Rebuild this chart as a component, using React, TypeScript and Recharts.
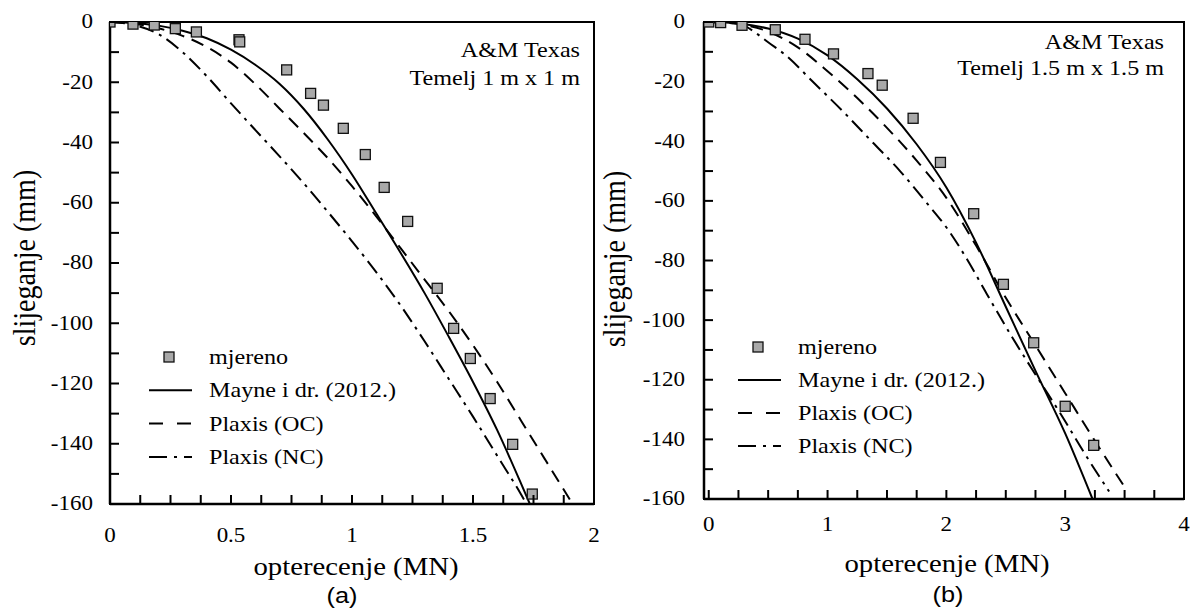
import React from 'react';
import { ComposedChart, Line, Scatter, XAxis, YAxis, ReferenceArea, Legend } from 'recharts';

// ---------- data ----------
const measAx = [0, 0.095, 0.183, 0.27, 0.357, 0.533, 0.536, 0.73, 0.829, 0.882, 0.964, 1.055, 1.133, 1.23, 1.352, 1.42, 1.489, 1.571, 1.664, 1.745];
const measAy = [0, -0.7, -1.0, -2.2, -3.3, -5.9, -6.6, -15.9, -23.7, -27.6, -35.3, -44, -54.9, -66.2, -88.4, -101.7, -111.7, -125, -140.2, -156.7];

const mayneAx = [0, 0.1, 0.2, 0.3, 0.4, 0.5, 0.6, 0.7, 0.8, 0.9, 1.0, 1.1, 1.2, 1.3, 1.4, 1.5, 1.6, 1.7, 1.735];
const mayneAy = [0, -0.3, -1.2, -2.9, -5.4, -9.2, -14.2, -20.5, -28.8, -39, -50.6, -63.5, -76.5, -90, -104.5, -119.5, -135.5, -153.5, -160];

const ocAx = [0, 0.1, 0.2, 0.3, 0.4, 0.5, 0.6, 0.7, 0.8, 0.9, 1.0, 1.1, 1.2, 1.3, 1.4, 1.5, 1.6, 1.7, 1.8, 1.9];
const ocAy = [0, -0.6, -2.1, -4.6, -8.3, -13.5, -20.6, -28.7, -36.8, -45.2, -54.5, -64.5, -75, -85.5, -96, -107.3, -119.5, -132.5, -145.5, -158.5];

const ncAx = [0, 0.1, 0.2, 0.3, 0.4, 0.5, 0.6, 0.7, 0.8, 0.9, 1.0, 1.1, 1.2, 1.3, 1.4, 1.5, 1.6, 1.7, 1.72];
const ncAy = [0, -1, -4, -10, -18, -27, -35.8, -44.5, -53.5, -63, -72.8, -83, -94, -106, -118.5, -131, -144, -157, -159.8];

const measBx = [0, 0.1, 0.28, 0.56, 0.81, 1.05, 1.34, 1.46, 1.72, 1.95, 2.23, 2.48, 2.735, 3.0, 3.24];
const measBy = [0, -0.2, -1.1, -2.6, -5.8, -10.7, -17.3, -21.2, -32.3, -47.1, -64.3, -88, -107.6, -128.9, -142];

const mayneBx = [0, 0.25, 0.5, 0.75, 1.0, 1.25, 1.5, 1.75, 2.0, 2.25, 2.5, 2.75, 3.0, 3.23];
const mayneBy = [0, -0.5, -2.2, -5.6, -11.2, -19.2, -29, -41, -55.5, -74, -95.5, -117, -138, -160];

const ocBx = [0, 0.25, 0.5, 0.75, 1.0, 1.25, 1.5, 1.75, 2.0, 2.25, 2.5, 2.75, 3.0, 3.25, 3.52];
const ocBy = [0, -0.7, -3.2, -8.5, -16.5, -25.5, -35.5, -46.5, -59, -75, -92.5, -108.5, -124.5, -140.5, -157.2];

const ncBx = [0, 0.15, 0.3, 0.4, 0.5, 0.65, 0.87, 1.13, 1.37, 1.61, 1.82, 2.02, 2.18, 2.33, 2.55, 2.77, 2.97, 3.16, 3.37];
const ncBy = [0, -0.2, -1.3, -3.8, -6.8, -11.2, -19.8, -30, -40, -50, -60, -70, -80, -90.5, -105.5, -119.5, -132, -144.5, -157.5];

const yTicks = [0, -10, -20, -30, -40, -50, -60, -70, -80, -90, -100, -110, -120, -130, -140, -150, -160];
const yLabels = [0, -20, -40, -60, -80, -100, -120, -140, -160];
const xTicksA = [0, 0.125, 0.25, 0.375, 0.5, 0.625, 0.75, 0.875, 1, 1.125, 1.25, 1.375, 1.5, 1.625, 1.75, 1.875, 2];
const xLabelsA = [0, 0.5, 1, 1.5, 2];
const xTicksB = [0, 0.25, 0.5, 0.75, 1, 1.25, 1.5, 1.75, 2, 2.25, 2.5, 2.75, 3, 3.25, 3.5, 3.75, 4];
const xLabelsB = [0, 1, 2, 3, 4];

const legendNames = ['mjereno', 'Mayne i dr. (2012.)', 'Plaxis (OC)', 'Plaxis (NC)'];
const siteName = 'A&M Texas';
const footingA = 'Temelj 1 m x 1 m';
const footingB = 'Temelj 1.5 m x 1.5 m';
const xTitle = 'opterecenje (MN)';
const yTitle = 'slijeganje (mm)';
const panelTags = ['(a)', '(b)'];

// ---------- helpers ----------
const FONT = "'Liberation Serif', 'Times New Roman', Times, serif";
const SANS = "'Liberation Sans', Arial, sans-serif";
const SX = 1.15;
const zip = (xs: number[], ys: number[]) => xs.map((x, i) => ({ x, y: ys[i] }));

function SText({ x, y, size, anchor = 'middle', family = FONT, rotate = false, children }: any) {
  const t = `translate(${x},${y}) scale(${SX},1)` + (rotate ? ' rotate(-90)' : '');
  return (
    <text transform={t} x={0} y={0} textAnchor={anchor} dominantBaseline="central" fontSize={size} fontFamily={family} fill="#000">
      {children}
    </text>
  );
}

const isIn = (arr: number[], v: number) => arr.some((a) => Math.abs(a - v) < 1e-9);

const XTick = (props: any) => {
  const { x, y, payload, labels, labelDy } = props;
  const v = payload.value;
  return (
    <g>
      <line x1={x} x2={x} y1={y} y2={y - 9} stroke="#000" strokeWidth={2} />
      {isIn(labels, v) && <SText x={x} y={y + labelDy} size={20}>{String(v)}</SText>}
    </g>
  );
};

const YTick = (props: any) => {
  const { x, y, payload, labels, labelDx } = props;
  const v = payload.value;
  return (
    <g>
      <line x1={x} x2={x + 9} y1={y} y2={y} stroke="#000" strokeWidth={2} />
      {isIn(labels, v) && <SText x={x - labelDx} y={y} size={20} anchor="end">{String(v)}</SText>}
    </g>
  );
};

const Square = (p: any) => (
  <rect x={p.cx - 5} y={p.cy - 5} width={10} height={10} fill="#a9a9a9" stroke="#111" strokeWidth={1.3} />
);

const LegendBox = ({ rowGap }: any) => {
  const rows = [17, 17 + rowGap, 17 + 2 * rowGap, 17 + 3 * rowGap];
  return (
    <svg width={260} height={140} style={{ display: 'block', overflow: 'visible' }}>
      <rect x={24} y={rows[0] - 5} width={10} height={10} fill="#a9a9a9" stroke="#111" strokeWidth={1.3} />
      <line x1={9} x2={52} y1={rows[1]} y2={rows[1]} stroke="#000" strokeWidth={2} />
      <line x1={9} x2={52} y1={rows[2]} y2={rows[2]} stroke="#000" strokeWidth={2} strokeDasharray="14 14" />
      <line x1={9} x2={52} y1={rows[3]} y2={rows[3]} stroke="#000" strokeWidth={2} strokeDasharray="18 7 3 7" />
      {legendNames.map((n, i) => (
        <SText key={n} x={69} y={rows[i]} size={21} anchor="start">{n}</SText>
      ))}
    </svg>
  );
};

function Panel({ cfg }: any) {
  const axisLine = { stroke: '#000', strokeWidth: 2.5 };
  return (
    <div style={{ position: 'absolute', left: cfg.left, top: 0 }}>
      <ComposedChart width={cfg.width} height={609} margin={cfg.margin}>
        <XAxis
          type="number"
          dataKey="x"
          domain={cfg.xDomain}
          ticks={cfg.xTicks}
          interval={0}
          allowDataOverflow
          height={60}
          tickSize={0}
          tickMargin={0}
          tickLine={false}
          axisLine={axisLine}
          tick={(p: any) => <XTick {...p} labels={cfg.xLabels} labelDy={cfg.xLabelDy} />}
        />
        <YAxis
          type="number"
          dataKey="y"
          domain={[-160, 0]}
          ticks={yTicks}
          interval={0}
          allowDataOverflow
          width={60}
          tickSize={0}
          tickMargin={0}
          tickLine={false}
          axisLine={axisLine}
          tick={(p: any) => <YTick {...p} labels={yLabels} labelDx={cfg.yLabelDx} />}
        />
        <ReferenceArea x1={cfg.xDomain[0]} x2={cfg.xDomain[1]} y1={-160} y2={0} fill="none" stroke="#000" strokeWidth={2} />
        <Line data={cfg.nc} dataKey="y" type="monotone" stroke="#000" strokeWidth={2} strokeDasharray="15 6 3 6" dot={false} isAnimationActive={false} />
        <Line data={cfg.oc} dataKey="y" type="monotone" stroke="#000" strokeWidth={2} strokeDasharray="13 8" dot={false} isAnimationActive={false} />
        <Line data={cfg.mayne} dataKey="y" type="monotone" stroke="#000" strokeWidth={2} dot={false} isAnimationActive={false} />
        <Scatter data={cfg.meas} dataKey="y" shape={Square} isAnimationActive={false} />
        <Legend
          layout="vertical"
          align="center"
          verticalAlign="middle"
          wrapperStyle={{ left: cfg.legendLeft, top: cfg.legendTop, width: 260, height: 140 }}
          content={() => <LegendBox rowGap={cfg.legendGap} />}
        />
      </ComposedChart>
    </div>
  );
}

const panelA = {
  left: 0,
  width: 600,
  margin: { top: 22, right: 6, bottom: 45, left: 50 },
  xDomain: [0, 2],
  xTicks: xTicksA,
  xLabels: xLabelsA,
  xLabelDy: 32,
  yLabelDx: 17,
  meas: zip(measAx, measAy),
  mayne: zip(mayneAx, mayneAy),
  oc: zip(ocAx, ocAy),
  nc: zip(ncAx, ncAy),
  legendLeft: 140,
  legendTop: 340,
  legendGap: 33.3,
};

const panelB = {
  left: 600,
  width: 590,
  margin: { top: 22, right: 6, bottom: 50, left: 44 },
  xDomain: [-0.04, 4],
  xTicks: xTicksB,
  xLabels: xLabelsB,
  xLabelDy: 26,
  yLabelDx: 19,
  meas: zip(measBx, measBy),
  mayne: zip(mayneBx, mayneBy),
  oc: zip(ocBx, ocBy),
  nc: zip(ncBx, ncBy),
  legendLeft: 129,
  legendTop: 330,
  legendGap: 33,
};

export default function App() {
  return (
    <div style={{ position: 'absolute', left: 0, top: 0, width: 1190, height: 609, background: '#fff', overflow: 'hidden' }}>
      <Panel cfg={panelA} />
      <Panel cfg={panelB} />
      <svg width={1190} height={609} style={{ position: 'absolute', left: 0, top: 0, pointerEvents: 'none' }}>
        <SText x={24} y={258} size={28} rotate>{yTitle}</SText>
        <SText x={614} y={259} size={28} rotate>{yTitle}</SText>
        <SText x={356} y={567} size={25}>{xTitle}</SText>
        <SText x={947} y={564} size={25}>{xTitle}</SText>
        <SText x={342} y={596} size={22} family={SANS}>{panelTags[0]}</SText>
        <SText x={948} y={595} size={22} family={SANS}>{panelTags[1]}</SText>
        <SText x={580} y={50} size={21} anchor="end">{siteName}</SText>
        <SText x={580} y={78} size={21} anchor="end">{footingA}</SText>
        <SText x={1164} y={42} size={21} anchor="end">{siteName}</SText>
        <SText x={1164} y={68} size={21} anchor="end">{footingB}</SText>
      </svg>
    </div>
  );
}
